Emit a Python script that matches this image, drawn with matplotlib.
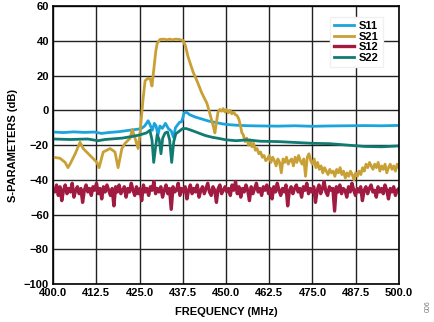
import matplotlib
matplotlib.use('Agg')
import matplotlib.pyplot as plt
import numpy as np

plt.rcParams['font.family'] = ['Liberation Sans', 'DejaVu Sans']
plt.rcParams['font.weight'] = 'bold'
plt.rcParams['axes.unicode_minus'] = True

# S11 (input return loss)
s11_freq = [400, 403, 406, 409, 412, 414, 416, 419, 422, 424, 425.5, 426.5, 427.5, 428.2,
            428.7, 429.3, 429.8, 430.3, 430.9, 431.6, 432.5, 433.3, 434.2, 434.8, 435.4,
            436.5, 437.2, 437.9, 438.5, 439.5, 441, 443, 445, 447, 449, 451, 454, 457, 460,
            465, 470, 475, 480, 485, 490, 495, 500]
s11_db = [-12.5, -12.8, -12.4, -12.7, -12.5, -13.3, -12.8, -12.3, -11.5, -11, -10.5, -9, -6,
          -9, -11.5, -7.5, -9, -14.4, -9, -10.4, -7.5, -10.4, -12, -15.5, -10, -7, -6.5, -1.5,
          -1, -2.5, -3.8, -5, -6.2, -7, -7.8, -8.3, -8.7, -8.9, -9, -9.1, -8.9, -9.2, -9, -8.9,
          -8.8, -8.9, -8.7]

# S21 (gain) - passband part
s21_freq = [400, 402, 403.5, 404.3, 404.9, 406.4, 407.8, 408.7, 410.7, 412.7, 413.3, 414.5,
            416.5, 417.9, 418.8, 419.9, 420.8, 422.3, 422.9, 423.7, 424.6, 425.1, 425.5, 426,
            426.6, 427.5, 428.1, 428.6, 429.2, 429.7, 430.1, 430.9, 432, 433, 433.7, 434.5,
            435.5, 436.5, 437.6, 438.3, 439, 440.5, 441.6, 443, 444.5, 445.5, 446.3, 446.8,
            447.3, 447.7, 448.2, 448.7, 449.2, 449.7, 450.2, 450.7, 451.2, 451.7, 452.2, 452.7,
            453.2, 453.7, 454.2, 454.6]
s21_db = [-27, -27.6, -30, -33, -31, -25, -18.4, -22, -26, -30, -33, -24, -22, -24, -33, -22,
          -19, -16, -11, -16, -22, -14, -5, 6, 17, 18.5, 18, 14, 25, 34, 38.5, 40.8, 41, 40.6,
          41, 40.6, 41, 40.8, 40.2, 37, 31, 22, 17, 10, 4, -3, -9, -13, -6, -1, 0.5, -0.5, 1,
          -1, 0.5, -1.5, 0, -2, -1, -2.5, -3, -5, -9, -13]

# S21 upper stopband, 0.5 MHz steps from 455 to 500 MHz
s21_tail_db = [-14, -18, -16, -20, -17, -21, -19, -23, -22, -25, -24, -27, -26, -29, -28, -26,
               -30, -27, -29, -32, -28, -30, -36, -28, -30, -27, -31, -29, -28, -32, -27, -30,
               -26, -29, -31, -28, -38, -27, -25, -29, -31, -28, -33, -30, -34, -32, -36, -33,
               -35, -37, -34, -36, -35, -38, -34, -36, -33, -37, -35, -39, -36, -38, -35, -37,
               -40, -36, -38, -35, -37, -33, -35, -31, -33, -30, -32, -34, -31, -33, -30, -35,
               -32, -34, -31, -36, -33, -31, -34, -32, -35, -31, -33]

# S12 (reverse isolation), sweep 400 to 500 MHz
s12_db = [-45, -47, -43, -49, -44, -52, -46, -43, -48, -45, -47, -42, -50, -46, -44, -48, -45, -53, -46, -43,
          -47, -45, -49, -44, -46, -42, -48, -45, -51, -44, -47, -43, -46, -49, -45, -55, -44, -47, -43, -48,
          -46, -44, -50, -45, -47, -42, -46, -49, -44, -48, -45, -52, -43, -47, -45, -49, -44, -46, -41, -48,
          -45, -47, -44, -50, -46, -43, -48, -45, -57, -44, -47, -46, -42, -49, -45, -47, -44, -51, -46, -43,
          -48, -45, -47, -43, -50, -46, -44, -48, -45, -42, -47, -49, -44, -46, -53, -45, -43, -48, -46, -44,
          -47, -45, -49, -43, -46, -41, -48, -44, -50, -45, -47, -43, -46, -52, -44, -48, -45, -42, -47, -45,
          -49, -44, -46, -43, -48, -45, -51, -44, -47, -42, -46, -49, -45, -47, -43, -55, -46, -44, -48, -45,
          -43, -47, -45, -50, -44, -46, -42, -48, -45, -47, -44, -53, -46, -43, -48, -45, -41, -47, -49, -44,
          -46, -45, -58, -44, -47, -43, -48, -45, -46, -50, -44, -47, -42, -46, -49, -45, -47, -44, -52, -46,
          -44, -48, -45, -43, -47, -46, -50, -44, -47, -45, -48, -43, -46, -51, -45, -47, -44, -49, -46, -45]

# S22 (output return loss)
s22_freq = [400, 405, 410, 413, 415, 420, 423, 425, 427, 428, 428.6, 429.1, 429.6, 430.1, 430.7,
            431.2, 431.7, 432.4, 433.1, 433.7, 434.3, 434.9, 435.5, 436.5, 437.5, 438.5, 440,
            442, 444, 446, 448, 450, 453, 456, 460, 465, 470, 475, 480, 485, 490, 495, 500]
s22_db = [-16.5, -16.8, -16.5, -17.5, -16.8, -16, -15, -14.2, -13, -11.5, -17, -30, -22, -14,
          -17, -25, -16, -13, -12.5, -17, -30, -18, -13.5, -12, -10.5, -10.5, -11.5, -13, -14.5,
          -15.5, -16.2, -17, -17.5, -17, -17.8, -18, -18.5, -19, -19.2, -20, -20.8, -21, -20.5]

xticks = [400.0, 412.5, 425.0, 437.5, 450.0, 462.5, 475.0, 487.5, 500.0]
yticks = [-100, -80, -60, -40, -20, 0, 20, 40, 60]

s21_all_freq = np.concatenate([s21_freq, np.linspace(455, 500, len(s21_tail_db))])
s21_all_db = np.concatenate([s21_db, s21_tail_db])
s12_freq = np.linspace(400, 500, len(s12_db))

fig = plt.figure(figsize=(4.35, 3.22), dpi=100)
ax = fig.add_axes([0.122, 0.118, 0.795, 0.863])

ax.plot(s11_freq, s11_db, color='#1ba3dc', lw=2.0, label='S11')
ax.plot(s21_all_freq, s21_all_db, color='#c9a035', lw=2.0, label='S21')
ax.plot(s12_freq, s12_db, color='#a11a42', lw=2.4, label='S12')
ax.plot(s22_freq, s22_db, color='#107b73', lw=2.0, label='S22')

ax.set_xlim(400, 500)
ax.set_ylim(-100, 60)
ax.set_xticks(xticks)
ax.set_xticklabels(['%.1f' % v for v in xticks])
ax.set_yticks(yticks)
ax.tick_params(length=0, labelsize=8, pad=3)
ax.grid(color='#222222', lw=1.0)
ax.set_axisbelow(True)
for sp in ax.spines.values():
    sp.set_linewidth(1.2)
    sp.set_color('black')

ax.set_xlabel('FREQUENCY (MHz)', fontsize=8, fontweight='bold', labelpad=6)
ax.set_ylabel('S-PARAMETERS (dB)', fontsize=8, fontweight='bold', labelpad=4)

leg = ax.legend(loc='upper right', bbox_to_anchor=(0.954, 0.962), borderaxespad=0,
                fontsize=8, handlelength=1.8, handletextpad=0.4, labelspacing=0.05,
                borderpad=0.4, frameon=True, fancybox=False)
leg.get_frame().set_facecolor('white')
leg.get_frame().set_edgecolor('#f0f0f0')
leg.get_frame().set_alpha(1)
for t in leg.get_texts():
    t.set_fontweight('bold')

fig.text(0.985, 0.05, '006', rotation=90, fontsize=5, color='#777777', ha='center', va='center',
         fontweight='normal')

fig.savefig('out.png', dpi=100)
